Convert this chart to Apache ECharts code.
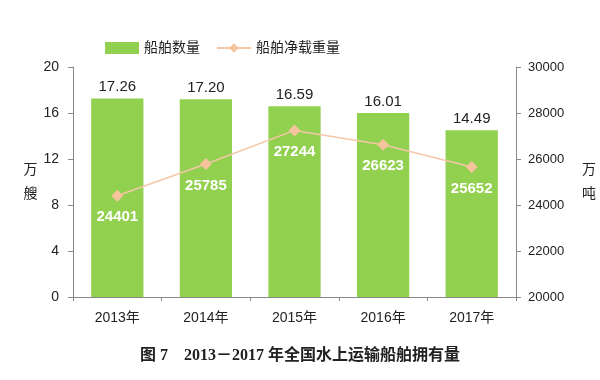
<!DOCTYPE html>
<html><head><meta charset="utf-8">
<script src="https://cdn.jsdelivr.net/npm/echarts@6/dist/echarts.min.js"></script>
<style>html,body{margin:0;padding:0;background:#fff}#c{width:600px;height:380px}</style>
</head><body><div id="c"></div>
<script>
const categories = ['2013年','2014年','2015年','2016年','2017年'];
const shipCount = [17.26, 17.20, 16.59, 16.01, 14.49];
const netTonnage = [24401, 25785, 27244, 26623, 25652];
const leftTicks = [0, 20, 4];
const rightTicks = [20000, 30000, 2000];
const caption = '图 7    2013－2017 年全国水上运输船舶拥有量';

const font = '"Liberation Sans", "Noto Sans CJK SC", sans-serif';
const chart = echarts.init(document.getElementById('c'));
chart.setOption({
  animation: false,
  textStyle: { fontFamily: font },
  legend: {
    top: 36, left: 100, itemGap: 16, itemWidth: 34, itemHeight: 12,
    textStyle: { fontSize: 14, color: '#222', fontFamily: font },
    data: [
      { name: '船舶数量', icon: 'rect' },
      { name: '船舶净载重量' }
    ]
  },
  grid: { left: 73, right: 84, top: 67, bottom: 83 },
  xAxis: {
    type: 'category', data: categories,
    axisLine: { lineStyle: { color: '#888' } },
    axisTick: { show: true, length: 4, lineStyle: { color: '#888' } },
    axisLabel: { fontSize: 14, color: '#222', margin: 14 }
  },
  yAxis: [
    {
      type: 'value', min: leftTicks[0], max: leftTicks[1], interval: leftTicks[2],
      name: '万\n艘', nameLocation: 'middle', nameGap: 30, nameRotate: 0,
      nameTextStyle: { fontSize: 14, color: '#222', lineHeight: 24 },
      axisLine: { show: true, lineStyle: { color: '#888' } },
      axisTick: { show: true, length: 5, lineStyle: { color: '#888' } },
      axisLabel: { fontSize: 14, color: '#222', margin: 14 },
      splitLine: { show: false }
    },
    {
      type: 'value', min: rightTicks[0], max: rightTicks[1], interval: rightTicks[2],
      name: '万\n吨', nameLocation: 'middle', nameGap: 66, nameRotate: 0,
      nameTextStyle: { fontSize: 14, color: '#222', lineHeight: 24, padding: [24, 0, 0, 0] },
      axisLine: { show: true, lineStyle: { color: '#888' } },
      axisTick: { show: true, length: 5, lineStyle: { color: '#888' } },
      axisLabel: { fontSize: 13, color: '#222', margin: 12, formatter: v => String(v) },
      splitLine: { show: false }
    }
  ],
  series: [
    {
      name: '船舶数量', type: 'bar', data: shipCount, barWidth: '59%',
      itemStyle: { color: '#92D050' },
      label: { show: true, position: 'top', distance: 4, fontSize: 15, color: '#222',
               formatter: p => p.value.toFixed(2) }
    },
    {
      name: '船舶净载重量', type: 'line', yAxisIndex: 1, data: netTonnage,
      symbol: 'diamond', symbolSize: 12,
      lineStyle: { color: '#F4C7A8', width: 1.5 },
      itemStyle: { color: '#F5C49C' },
      label: { show: true, position: 'bottom', distance: 8, fontSize: 15, fontWeight: 'bold', color: '#fff' }
    }
  ],
  graphic: [{
    type: 'text', left: 'center', top: 348,
    style: { text: caption, fontSize: 16, fontWeight: 'bold', fill: '#222',
             fontFamily: '"Liberation Serif", "Noto Sans CJK SC", serif' }
  }]
});
</script></body></html>
